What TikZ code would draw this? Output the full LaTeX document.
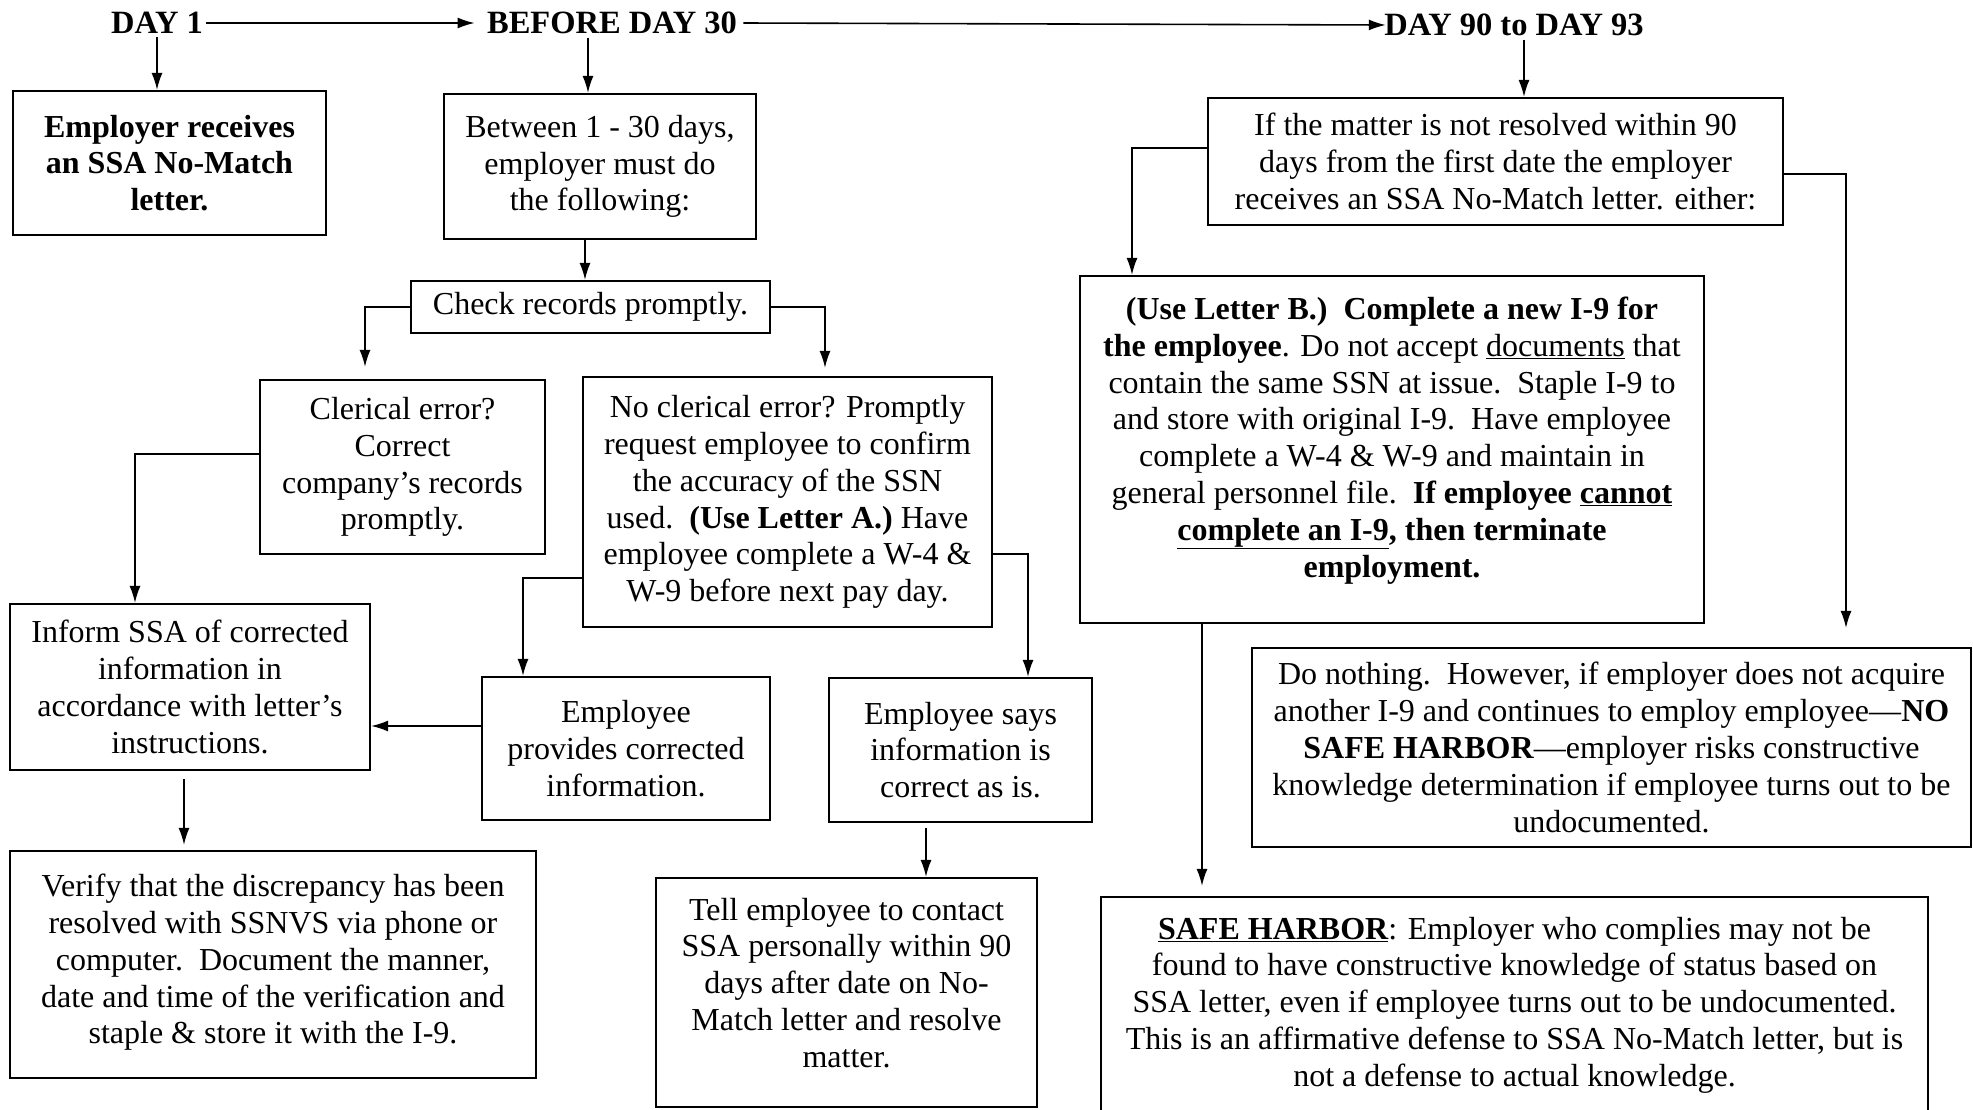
\documentclass[tikz,border=0pt]{standalone}
\usepackage{fontspec}
\setmainfont{Liberation Serif}
\usetikzlibrary{arrows.meta}

\begin{document}
\begin{tikzpicture}[
  x=1pt, y=-1pt,
  >={Latex[length=17pt,width=11pt]},
  hdr/.style={font=\fontsize{32.5}{36}\selectfont\bfseries},
  box/.style={draw, line width=2.2pt, align=center, font=\fontsize{32}{36.8}\selectfont, inner sep=4pt},
  arrow/.style={->, line width=1.6pt}
]
\useasboundingbox (0,0) rectangle (1973,1109);

% time line
\node[hdr] (day1) at (157,23) {DAY 1};
\node[hdr] (day30) at (612,23) {BEFORE DAY 30};
\node[hdr] (day90) at (1514,25) {DAY 90 to DAY 93};
\draw[arrow] (day1.east) -- ([xshift=-9pt]day30.west);
\draw[arrow] ([xshift=3pt]day30.east) -- ([xshift=5pt]day90.west);

% day 1 to day 30
\node[box, font=\fontsize{32}{36.8}\selectfont\bfseries, minimum width=313pt, minimum height=144pt] (recv) at (169.5,163) {Employer receives\\an SSA No-Match\\letter.};
\node[box, minimum width=312pt, minimum height=145pt] (btw) at (600,166.5) {Between 1 - 30 days,\\employer must do\\the following:};
\node[box, minimum width=359pt, minimum height=52pt] (check) at (590.5,307) {Check records promptly.};
\node[box, minimum width=285pt, minimum height=174pt] (clerical) at (402.5,467) {Clerical error?\\Correct\\company’s records\\promptly.};
\node[box, minimum width=409pt, minimum height=250pt] (noclerical) at (787.5,502) {No clerical error? Promptly\\request employee to confirm\\the accuracy of the SSN\\used.\ \ \textbf{(Use Letter A.)}\ Have\\employee complete a W-4 \&\\W-9 before next pay day.};
\node[box, minimum width=360pt, minimum height=166pt] (inform) at (190,687) {Inform SSA of corrected\\information in\\accordance with letter’s\\instructions.};
\node[box, minimum width=288pt, minimum height=143pt] (provides) at (626,748.5) {Employee\\provides corrected\\information.};
\node[box, minimum width=263pt, minimum height=144pt] (says) at (960.5,750) {Employee says\\information is\\correct as is.};
\node[box, minimum width=526pt, minimum height=227pt] (verify) at (273,964.5) {Verify that the discrepancy has been\\resolved with SSNVS via phone or\\computer.\ \ Document the manner,\\date and time of the verification and\\staple \& store it with the I-9.\\[-26pt]\mbox{}};
\node[box, minimum width=381pt, minimum height=229pt] (tell) at (846.5,992.5) {Tell employee to contact\\SSA personally within 90\\days after date on No-\\Match letter and resolve\\matter.\\[-17pt]\mbox{}};

\draw[arrow] (day1.south) -- ([xshift=-12.5pt]recv.north);
\draw[arrow] ([xshift=-24pt]day30.south) -- ([xshift=-12pt]btw.north);
\draw[arrow] ([xshift=-15pt]btw.south) -- ([xshift=-5.5pt]check.north);
\draw[arrow, shorten >=12pt] (check.west) -| ([xshift=-37.5pt]clerical.north);
\draw[arrow, shorten >=8pt] (check.east) -| ([xshift=37.5pt]noclerical.north);
\draw[arrow] ([yshift=13pt]clerical.west) -| ([xshift=-55pt]inform.north);
\draw[arrow] ([yshift=-76pt]noclerical.west) -| ([xshift=-103pt]provides.north);
\draw[arrow] ([yshift=-52pt]noclerical.east) -| ([xshift=67.5pt]says.north);
\draw[arrow] ([yshift=22.5pt]provides.west) -- ([yshift=-39pt]inform.east);
\draw[arrow, shorten >=5pt] ([xshift=-6pt,yshift=-8pt]inform.south) -- ([xshift=-89pt]verify.north);
\draw[arrow] ([xshift=-34.5pt,yshift=-5pt]says.south) -- ([xshift=79.5pt]tell.north);

% day 90 to day 93
\node[box, minimum width=575pt, minimum height=127pt] (matter) at (1495.5,161.5) {If the matter is not resolved within 90\\days from the first date the employer\\receives an SSA No-Match letter. either:};
\node[box, minimum width=624pt, minimum height=347pt] (letterB) at (1392,449.5) {\textbf{(Use Letter B.)\ \ Complete a new I-9 for}\\\textbf{the employee}. Do not accept \underline{documents} that\\contain the same SSN at issue.\ \ Staple I-9 to\\and store with original I-9.\ \ Have employee\\complete a W-4 \& W-9 and maintain in\\general personnel file.\ \ \textbf{If employee \underline{cannot}}\\\textbf{\underline{complete an I-9}, then terminate}\\\textbf{employment.}\\[-12pt]\mbox{}};
\node[box, minimum width=719pt, minimum height=199pt] (nothing) at (1611.5,747.5) {Do nothing.\ \ However, if employer does not acquire\\another I-9 and continues to employ employee—\textbf{NO}\\\textbf{SAFE HARBOR}—employer risks constructive\\knowledge determination if employee turns out to be\\undocumented.};
\node[box, minimum width=827pt, minimum height=222pt] (harbor) at (1514.5,1008) {\textbf{\underline{SAFE HARBOR}}: Employer who complies may not be\\found to have constructive knowledge of status based on\\SSA letter, even if employee turns out to be undocumented.\\This is an affirmative defense to SSA No-Match letter, but is\\not a defense to actual knowledge.\\[-24pt]\mbox{}};

\draw[arrow] ([xshift=10pt]day90.south) -- ([xshift=28.5pt]matter.north);
\draw[arrow] ([yshift=13.5pt]matter.west) -| ([xshift=-260pt]letterB.north);
\draw[arrow, shorten >=19pt] ([yshift=-12.5pt]matter.east) -| ([xshift=234.5pt]nothing.north);
\draw[arrow, shorten >=10pt] ([xshift=-190pt]letterB.south) -- ([xshift=-312.5pt]harbor.north);
\end{tikzpicture}
\end{document}
